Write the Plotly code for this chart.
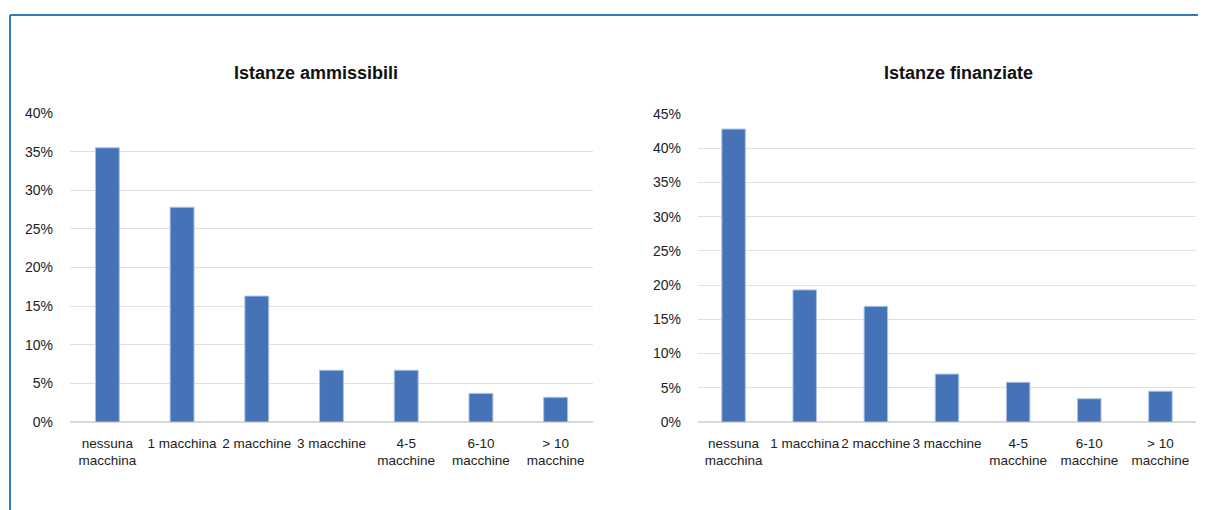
import plotly.graph_objects as go

categories = ["nessuna<br>macchina", "1 macchina", "2 macchine", "3 macchine",
              "4-5<br>macchine", "6-10<br>macchine", "> 10<br>macchine"]
ammissibili = [0.355, 0.278, 0.163, 0.067, 0.067, 0.037, 0.032]
finanziate = [0.428, 0.193, 0.169, 0.070, 0.058, 0.034, 0.045]
title_left = "Istanze ammissibili"
title_right = "Istanze finanziate"

# page body has an 8px margin: figure is drawn offset by 8px
OFF = 8
W, H = 1206 - OFF, 510 - OFF


def px(x):
    return (x - OFF) / W


def py(y):
    return 1 - (y - OFF) / H


FONT = "Liberation Sans, Arial, sans-serif"
BAR = "#4672B8"

fig = go.Figure()
fig.add_trace(go.Bar(x=categories, y=ammissibili, xaxis="x", yaxis="y",
                     marker=dict(color=BAR, line=dict(color="#A9C4E8", width=1)),
                     width=0.32, hoverinfo="x+y"))
fig.add_trace(go.Bar(x=categories, y=finanziate, xaxis="x2", yaxis="y2",
                     marker=dict(color=BAR, line=dict(color="#A9C4E8", width=1)),
                     width=0.33, hoverinfo="x+y"))

xaxis_common = dict(showgrid=False, showline=False, ticks="", zeroline=False, automargin=False,
                    tickangle=0, ticklabelstandoff=11,
                    tickfont=dict(family=FONT, size=13.5, color="#222"), fixedrange=True)
yaxis_common = dict(showgrid=True, gridcolor="#E0E0E0", gridwidth=1, zeroline=True,
                    zerolinecolor="#D9D9D9", zerolinewidth=2, tickformat=".0%", automargin=False,
                    dtick=0.05, ticks="", showline=False, ticklabelstandoff=16,
                    tickfont=dict(family=FONT, size=14, color="#222"), fixedrange=True)

fig.update_layout(
    template="none",
    width=W, height=H, margin=dict(l=0, r=0, t=0, b=0),
    paper_bgcolor="white", plot_bgcolor="white", showlegend=False,
    xaxis=dict(domain=[px(70), px(593)], anchor="y", **xaxis_common),
    yaxis=dict(domain=[py(422), py(113)], range=[0, 0.40], anchor="x", **yaxis_common),
    xaxis2=dict(domain=[px(698), px(1196)], anchor="y2", **xaxis_common),
    yaxis2=dict(domain=[py(422), py(114)], range=[0, 0.45], anchor="x2", **yaxis_common),
    annotations=[
        dict(text="<b>" + title_left + "</b>", x=px(316), y=py(73), xref="paper", yref="paper",
             showarrow=False, font=dict(family=FONT, size=18, color="#111"), xanchor="center", yanchor="middle"),
        dict(text="<b>" + title_right + "</b>", x=px(958), y=py(73), xref="paper", yref="paper",
             showarrow=False, font=dict(family=FONT, size=18, color="#111"), xanchor="center", yanchor="middle"),
    ],
    shapes=[
        dict(type="line", xref="paper", yref="paper", x0=px(10), x1=1, y0=py(15), y1=py(15),
             line=dict(color="#2E7BC4", width=2)),
        dict(type="line", xref="paper", yref="paper", x0=px(10), x1=px(10), y0=0, y1=py(15),
             line=dict(color="#2E7BC4", width=2)),
    ],
)

fig.write_html("out.html")
